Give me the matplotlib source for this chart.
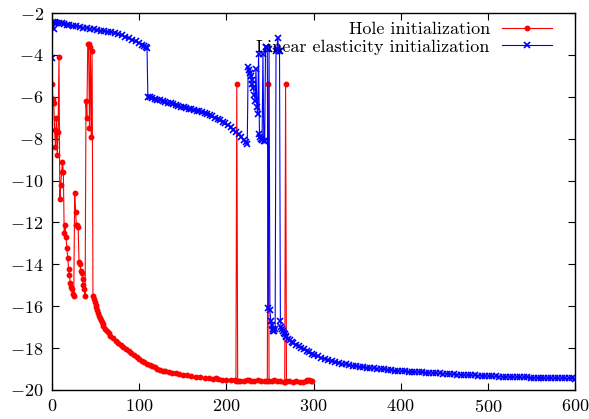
import matplotlib
matplotlib.use("Agg")
import matplotlib.pyplot as plt

plt.rcParams['font.family'] = 'serif'
plt.rcParams['font.serif'] = ['cmr10']
plt.rcParams['mathtext.fontset'] = 'cm'
plt.rcParams['axes.formatter.use_mathtext'] = True
plt.rcParams['font.size'] = 13

# Hole initialization (iteration, log residual)
hole_x = [0, 1, 2, 3, 4, 5, 6, 7, 8, 9, 10, 11, 12, 13, 14, 15, 16, 17, 18, 19,
          20, 21, 22, 23, 24, 25, 26, 27, 28, 29, 30, 31, 32, 33, 34, 35, 36, 37, 38,
          39, 40, 41, 42, 43, 44, 45, 46, 47, 48, 49, 50, 51, 52, 53, 54, 55, 56, 57,
          58, 59, 61, 63, 65, 67, 70, 73, 76, 79, 82, 85, 88, 91, 94, 97, 100, 103,
          106, 109, 112, 115, 118, 121, 124, 127, 130, 134, 138, 142, 146, 150, 155,
          160, 165, 170, 175, 180, 185, 188, 190, 195, 200, 205, 210, 211, 212, 213,
          216, 220, 224, 226, 228, 232, 236, 240, 244, 247, 248, 249, 252, 255, 258,
          262, 266, 267, 268, 269, 272, 276, 280, 284, 288, 291, 293, 295, 297, 298]
hole_y = [-5.4, -6.1, -6.3, -7.6, -8.4, -7.0, -8.8, -7.7, -4.1, -10.9, -10.2, -9.6,
          -9.1, -9.6, -12.5, -12.1, -12.7, -13.2, -13.7, -14.2, -14.5, -14.9, -15.1,
          -15.2, -15.4, -15.5, -10.6, -11.5, -12.1, -12.1, -12.2, -13.9, -14.0, -14.3,
          -14.4, -14.7, -15.0, -15.2, -15.5, -6.2, -7.0, -3.5, -3.5, -7.5, -3.6, -7.9,
          -3.8, -15.5, -15.65, -15.8, -15.95, -16.05, -16.2, -16.3, -16.45, -16.55,
          -16.65, -16.75, -16.85, -16.95, -17.1, -17.2, -17.3, -17.4, -17.52, -17.64,
          -17.74, -17.84, -17.93, -18.02, -18.12, -18.22, -18.32, -18.42, -18.52,
          -18.6, -18.68, -18.74, -18.8, -18.86, -18.92, -18.98, -19.03, -19.07, -19.1,
          -19.14, -19.17, -19.2, -19.23, -19.26, -19.3, -19.33, -19.36, -19.39, -19.42,
          -19.45, -19.47, -19.42, -19.48, -19.5, -19.52, -19.53, -19.54, -19.55, -5.4,
          -19.55, -19.55, -19.56, -19.54, -19.5, -19.56, -19.57, -19.54, -19.57,
          -19.58, -19.57, -5.4, -19.58, -19.56, -19.53, -19.58, -19.58, -19.6, -19.6,
          -5.4, -19.58, -19.56, -19.6, -19.58, -19.6, -19.61, -19.58, -19.5, -19.54,
          -19.58, -19.58]

# Linear elasticity initialization, up to the jumps
elast_x = [0, 1, 2, 3, 4, 5, 8, 11, 14, 17, 20, 24, 28, 32, 36, 40, 44, 48, 52, 56,
           60, 64, 68, 72, 76, 80, 84, 88, 92, 96, 100, 103, 106, 108, 109,
           110, 112, 115, 118, 121, 124, 127, 130, 133, 136, 139, 142, 145, 148, 151,
           154, 157, 160, 163, 166, 169, 172, 175, 178, 181, 184, 187, 190, 193, 196,
           199, 202, 205, 208, 211, 214, 217, 220, 222, 224,
           225, 226, 227, 228, 229, 230, 231, 232, 233, 234, 235, 236, 237, 238, 239,
           240, 241, 242, 243, 244, 245, 246, 247, 248, 249, 250, 251, 252, 253, 254,
           255, 256, 257, 258, 259, 260, 261, 262, 263, 264, 265, 266, 267, 268, 269,
           271, 273, 275, 277, 280, 283, 286, 289, 292, 295, 298, 301]
elast_y = [-4.16, -2.45, -2.75, -2.5, -2.45, -2.46, -2.48, -2.5, -2.53, -2.55, -2.58,
           -2.61, -2.64, -2.67, -2.7, -2.72, -2.75, -2.78, -2.81, -2.84, -2.87, -2.9,
           -2.93, -2.96, -3.01, -3.06, -3.13, -3.2, -3.28, -3.36, -3.44, -3.51, -3.58,
           -3.64, -3.69,
           -6.0, -6.02, -6.06, -6.1, -6.13, -6.17, -6.2, -6.24, -6.28, -6.31, -6.35,
           -6.39, -6.43, -6.47, -6.51, -6.55, -6.58, -6.6, -6.63, -6.66, -6.7, -6.74,
           -6.79, -6.84, -6.89, -6.94, -7.0, -7.05, -7.12, -7.19, -7.27, -7.36, -7.46,
           -7.57, -7.68, -7.8, -7.93, -8.05, -8.14, -8.24,
           -4.6, -4.7, -4.85, -5.0, -5.2, -5.4, -5.6, -5.9, -6.2, -4.65, -6.5, -6.8,
           -3.95, -7.8, -7.9, -8.0, -8.05, -3.95, -8.1, -8.1, -3.6, -3.6, -3.65, -16.1,
           -3.7, -16.2, -16.7, -16.9, -17.1, -17.2, -17.2, -17.1, -3.8, -3.7, -3.2,
           -3.8, -3.8, -16.7, -17.0, -17.1, -17.2, -17.28, -17.34, -17.4, -17.45,
           -17.55, -17.63, -17.7, -17.76, -17.84, -17.92, -17.99, -18.06, -18.13,
           -18.2, -18.26, -18.32]

# Linear elasticity initialization, slow tail
tail_x = [305, 309, 313, 317, 321, 325, 329, 333, 337, 341,
          345, 349, 353, 357, 361, 365, 369, 373, 377, 381,
          385, 389, 393, 397, 401, 405, 409, 413, 417, 421,
          425, 429, 433, 437, 441, 445, 449, 453, 457, 461,
          465, 469, 473, 477, 481, 485, 489, 493, 497, 501,
          505, 509, 513, 517, 521, 525, 529, 533, 537, 541,
          545, 549, 553, 557, 561, 565, 569, 573, 577, 581,
          585, 589, 593, 597, 600]
tail_y = [-18.39, -18.46, -18.52, -18.58, -18.63, -18.67, -18.71, -18.75, -18.78, -18.81,
          -18.84, -18.87, -18.89, -18.91, -18.93, -18.95, -18.97, -18.99, -19.01, -19.02,
          -19.04, -19.05, -19.07, -19.08, -19.1, -19.11, -19.12, -19.13, -19.14, -19.15,
          -19.16, -19.17, -19.18, -19.19, -19.2, -19.21, -19.22, -19.23, -19.24, -19.25,
          -19.26, -19.27, -19.28, -19.29, -19.3, -19.3, -19.31, -19.32, -19.33, -19.33,
          -19.34, -19.35, -19.36, -19.36, -19.37, -19.37, -19.38, -19.39, -19.39, -19.4,
          -19.4, -19.41, -19.41, -19.42, -19.42, -19.43, -19.43, -19.43, -19.44, -19.44,
          -19.44, -19.45, -19.45, -19.45, -19.46]

fig = plt.figure(figsize=(5.89, 4.19), dpi=100)
ax = fig.add_axes([52 / 589, 29 / 419, 523 / 589, 377 / 419])

ax.plot(hole_x, hole_y, color='#ff0000', lw=0.8, marker='o', ms=3.2,
        mec='#ff0000', label='Hole initialization')
ax.plot(elast_x + tail_x, elast_y + tail_y, color='#0000ff', lw=0.8, marker='x',
        ms=5.0, mew=1.2, label='Linear elasticity initialization')

ax.set_xlim(0, 600)
ax.set_ylim(-20, -2)
ax.set_xticks(range(0, 601, 100))
ax.set_yticks(range(-20, -1, 2))
ax.tick_params(direction='in', top=True, right=True, length=5, width=0.8,
               labelsize=13, pad=6)
for s in ax.spines.values():
    s.set_linewidth(1.0)

ax.legend(loc='upper right', frameon=False, markerfirst=False, handlelength=2.8,
          borderaxespad=0.2, labelspacing=0.1, handletextpad=0.65,
          bbox_to_anchor=(0.977, 1.006), fontsize=13)

fig.savefig('out.png', dpi=100)
